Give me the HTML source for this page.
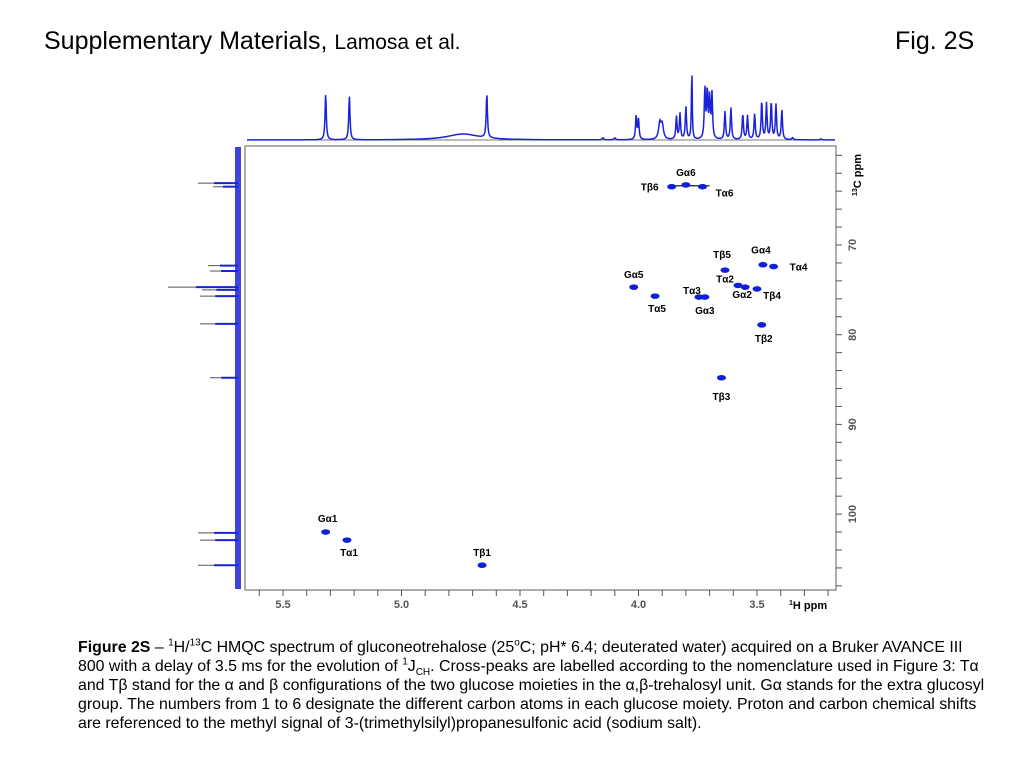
<!DOCTYPE html>
<html><head><meta charset="utf-8"><style>
body{margin:0;width:1024px;height:768px;background:#fff;font-family:"Liberation Sans",Arial,sans-serif;position:relative;overflow:hidden}
.t{position:absolute;white-space:nowrap;color:#000}
.cap{position:absolute;left:78px;font-size:15.9px;line-height:19px;white-space:nowrap}
.cap sup,.cap sub{font-size:10px;line-height:0}
</style></head><body>
<div class="t" style="left:44px;top:27px;font-size:25px">Supplementary Materials, <span style="font-size:21px">Lamosa et al.</span></div>
<div class="t" style="left:895px;top:27px;font-size:25px">Fig. 2S</div>
<svg id="chart" width="1024" height="630" style="position:absolute;left:0;top:0" font-family="Liberation Sans, Arial, sans-serif"></svg>
<div class="cap" style="top:638px"><b>Figure 2S</b> – <sup>1</sup>H/<sup>13</sup>C HMQC spectrum of gluconeotrehalose (25<sup>o</sup>C; pH* 6.4; deuterated water) acquired on a Bruker AVANCE III</div>
<div class="cap" style="top:657px">800 with a delay of 3.5 ms for the evolution of <sup>1</sup>J<sub>CH</sub>. Cross-peaks are labelled according to the nomenclature used in Figure 3: Tα</div>
<div class="cap" style="top:676px">and Tβ stand for the α and β configurations of the two glucose moieties in the α,β-trehalosyl unit. Gα stands for the extra glucosyl</div>
<div class="cap" style="top:695px">group. The numbers from 1 to 6 designate the different carbon atoms in each glucose moiety. Proton and carbon chemical shifts</div>
<div class="cap" style="top:714px">are referenced to the methyl signal of 3-(trimethylsilyl)propanesulfonic acid (sodium salt).</div>
<script>
const peakLabels=["Gα6","Tβ6","Tα6","Tβ5","Gα4","Tα4","Gα5","Tα5","Tα3","Gα3","Tα2","Gα2","Tβ4","Tβ2","Tβ3","Gα1","Tα1","Tβ1"];
const peakH=[3.80,3.86,3.73,3.635,3.475,3.43,4.02,3.93,3.745,3.72,3.58,3.55,3.50,3.48,3.65,5.32,5.23,4.66];
const peakC=[63.3,63.5,63.5,72.8,72.2,72.4,74.7,75.7,75.8,75.8,74.5,74.7,74.9,78.9,84.8,102.0,102.9,105.7];
const labelDx=[0,-22,22,-3,-2,25,0,2,-7,0,-13,-3,15,2,0,2,2,0];
const labelDy=[-13,0,6,-16,-15,0,-13,12,-7,13,-7,7,6,13,18,-14,12,-13];
const topPpm=[5.32,5.22,4.74,4.64,4.15,4.10,4.01,4.00,3.91,3.90,3.84,3.825,3.80,3.775,3.72,3.71,3.70,3.69,3.635,3.61,3.56,3.54,3.51,3.48,3.46,3.44,3.42,3.395,3.35,3.23];
const topInt=[47,45,6,45,2,2,24,20,16,14,23,26,33,72,50,48,40,45,28,32,26,24,26,39,36,38,35,30,2,1];
const topWidth=[0.003,0.003,0.08,0.003,0.004,0.004,0.003,0.003,0.006,0.006,0.003,0.003,0.003,0.002,0.003,0.003,0.003,0.003,0.003,0.003,0.003,0.003,0.003,0.003,0.003,0.003,0.003,0.003,0.004,0.004];
const sideC=[63.1,63.5,72.3,72.9,74.7,75.0,75.7,78.8,84.8,102.1,102.9,105.7];
const sideInt=[40,25,30,28,70,36,38,38,28,40,38,40];
const xTicks=[5.5,5.0,4.5,4.0,3.5];
const yTicks=[70,80,90,100];
const NS="http://www.w3.org/2000/svg";
const svg=document.getElementById('chart');
const X=p=>283+(5.5-p)*237;
const Y=c=>245+(c-70)*8.97;
function el(t,a,p){const e=document.createElementNS(NS,t);for(const k in a)e.setAttribute(k,a[k]);(p||svg).appendChild(e);return e;}
const fr=el('rect',{x:245,y:146,width:591,height:444,fill:'none',stroke:'#777','stroke-width':1.2});


for(let p=5.6;p>=3.2;p-=0.1){el('line',{x1:X(p),x2:X(p),y1:590,y2:596,stroke:'#555'});}
xTicks.forEach(v=>{const t=el('text',{x:X(v),y:608,'font-size':11,'font-weight':'bold','text-anchor':'middle',fill:'#555'});t.textContent=v.toFixed(1);

});
const xl=el('text',{x:789,y:609,'font-size':11,'font-weight':'bold'});xl.innerHTML='<tspan font-size="7" dy="-4">1</tspan><tspan dy="4">H ppm</tspan>';


for(let c=60;c<=108;c+=2){el('line',{x1:836,x2:842,y1:Y(c),y2:Y(c),stroke:'#555'});}
yTicks.forEach(v=>{const t=el('text',{x:0,y:0,'font-size':11,'font-weight':'bold','text-anchor':'middle',fill:'#555',transform:`translate(856,${Y(v)}) rotate(-90)`});t.textContent=v;

});
const yl=el('text',{x:0,y:0,'font-size':11,'font-weight':'bold',transform:'translate(861,196) rotate(-90)'});yl.innerHTML='<tspan font-size="7" dy="-4">13</tspan><tspan dy="4">C ppm</tspan>';


let d='';
for(let x=247;x<=835;x+=0.5){const p=5.5-(x-283)/237;let s=0;topPpm.forEach((q,i)=>{const w=topWidth[i];s+=topInt[i]*w*w/((p-q)*(p-q)+w*w);});d+=(d?'L':'M')+x.toFixed(1)+' '+(140-s).toFixed(1);}
el('line',{x1:247,x2:835,y1:140,y2:140,stroke:'#777','stroke-width':1});
const tp=el('path',{d:d,fill:'none',stroke:'#1a22d8','stroke-width':1.5});


const noise=el('rect',{x:235,y:147,width:6,height:442,fill:'#1a22d8',opacity:0.85});


sideC.forEach((c,i)=>{const l=el('line',{x1:238,x2:238-sideInt[i],y1:Y(c),y2:Y(c),stroke:'#555','stroke-width':1});


el('line',{x1:238,x2:238-sideInt[i]*0.6,y1:Y(c),y2:Y(c),stroke:'#1a22d8','stroke-width':2});});
el('line',{x1:X(3.86),x2:X(3.70),y1:Y(63.4),y2:Y(63.4),stroke:'#000','stroke-width':1.2});
peakH.forEach((h,i)=>{const e=el('ellipse',{cx:X(h),cy:Y(peakC[i]),rx:4.5,ry:2.8,fill:'#1020d8'});


const t=el('text',{x:X(h)+labelDx[i],y:Y(peakC[i])+labelDy[i]+4,'font-size':10,'font-weight':'bold','text-anchor':'middle'});t.textContent=peakLabels[i];

});
</script>
</body></html>
